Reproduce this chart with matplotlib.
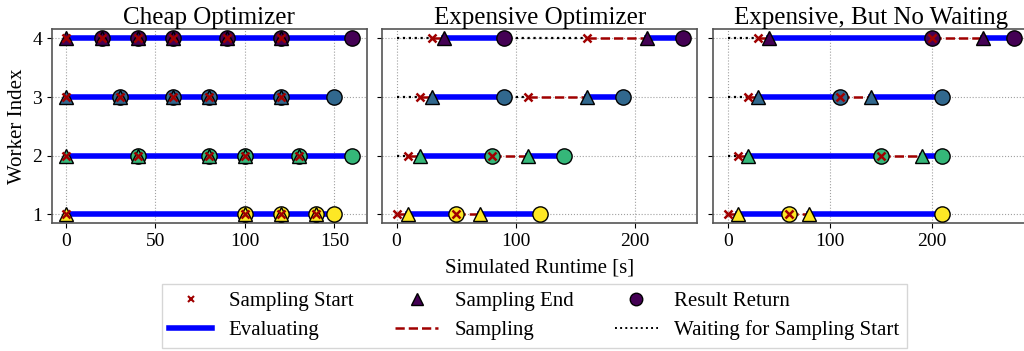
import matplotlib
matplotlib.use("Agg")
import matplotlib.pyplot as plt
from matplotlib.lines import Line2D

plt.rcParams['font.family'] = ['Liberation Serif', 'DejaVu Serif']

titles = ["Cheap Optimizer", "Expensive Optimizer", "Expensive, But No Waiting"]
workers = [1, 2, 3, 4]
worker_colors = ["#fde725", "#35b779", "#31688e", "#440154"]

# per panel, per worker: sampling start / sampling end / result return times
cheap_start = [[0, 100, 120, 140], [0, 40, 80, 100, 130], [0, 30, 60, 80, 120], [0, 20, 40, 60, 90, 120]]
cheap_end = [[0, 100, 120, 140], [0, 40, 80, 100, 130], [0, 30, 60, 80, 120], [0, 20, 40, 60, 90, 120]]
cheap_result = [[100, 120, 140, 150], [40, 80, 100, 130, 160], [30, 60, 80, 120, 150], [20, 40, 60, 90, 120, 160]]

exp_start = [[0, 50], [10, 80], [20, 110], [30, 160]]
exp_end = [[10, 70], [20, 110], [30, 160], [40, 210]]
exp_result = [[50, 120], [80, 140], [90, 190], [90, 240]]

nowait_start = [[0, 60], [10, 150], [20, 110], [30, 200]]
nowait_end = [[10, 80], [20, 190], [30, 140], [40, 250]]
nowait_result = [[60, 210], [150, 210], [110, 210], [200, 280]]

panels = [(cheap_start, cheap_end, cheap_result),
          (exp_start, exp_end, exp_result),
          (nowait_start, nowait_end, nowait_result)]

fig = plt.figure(figsize=(10.24, 3.51), dpi=100)
bottom, height = 0.364, 0.552
lefts = [0.0505, 0.3733, 0.6966]
width = 0.3075
axes = []
for i in range(3):
    ax = fig.add_axes([lefts[i], bottom, width, height], sharey=axes[0] if axes else None)
    axes.append(ax)

for ax, title, (starts, ends, results) in zip(axes, titles, panels):
    for w, col, st, en, res in zip(workers, worker_colors, starts, ends, results):
        prev = 0
        for s, e, r in zip(st, en, res):
            if s > prev:
                ax.plot([prev, s], [w, w], ':', color='black', lw=1.6, zorder=2)
            if e > s:
                ax.plot([s, e], [w, w], '--', color='#a00000', lw=1.8, zorder=2)
            ax.plot([e, r], [w, w], '-', color='blue', lw=4, zorder=3)
            prev = r
        ax.plot(res, [w] * len(res), 'o', ms=11, mfc=col, mec='black', mew=1, zorder=4)
        ax.plot(en, [w] * len(en), '^', ms=10, mfc=col, mec='black', mew=1, zorder=5)
        ax.plot(st, [w] * len(st), 'x', ms=6, color='#a00000', mew=1.8, zorder=6)
    ax.set_title(title, fontsize=18, pad=4)
    ax.grid(True, linestyle=':', color='#a0a0a0', lw=0.8)
    ax.set_axisbelow(True)
    ax.tick_params(labelsize=14)
    for sp in ax.spines.values():
        sp.set_color('#555555')
        sp.set_linewidth(1.2)

axes[0].set_yticks(workers)
axes[0].set_ylabel("Worker Index", fontsize=15)
axes[0].set_xticks([0, 50, 100, 150])
axes[1].set_xticks([0, 100, 200])
axes[2].set_xticks([0, 100, 200])
for ax in axes[1:]:
    ax.tick_params(labelleft=False)

axes[1].set_xlabel("Simulated Runtime [s]", fontsize=15, labelpad=6)

handles = [
    Line2D([], [], marker='x', ls='', color='#a00000', ms=5, mew=1.5),
    Line2D([], [], color='blue', lw=4),
    Line2D([], [], marker='^', ls='', mfc='#440154', mec='black', ms=8),
    Line2D([], [], color='#a00000', ls='--', lw=1.8),
    Line2D([], [], marker='o', ls='', mfc='#440154', mec='black', ms=9),
    Line2D([], [], color='black', ls=':', lw=1.4),
]
labels = ["Sampling Start", "Evaluating", "Sampling End", "Sampling", "Result Return",
          "Waiting for Sampling Start"]
fig.legend(handles, labels, loc='lower center', bbox_to_anchor=(0.522, -0.02), ncol=3,
           fontsize=15, frameon=True, fancybox=False, edgecolor='#cccccc',
           columnspacing=2.0, handlelength=2.05, labelspacing=0.45, borderpad=0.35)

fig.savefig("out.png", dpi=100)
